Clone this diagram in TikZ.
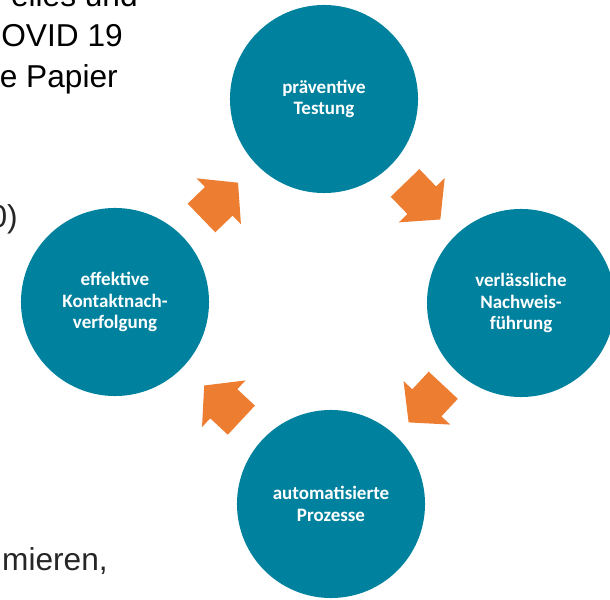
\documentclass[tikz,border=0pt]{standalone}
\usepackage{fontspec}
\setmainfont{Liberation Sans}
\newfontfamily\kreisfont{Carlito}
\usepackage{xcolor}
\usetikzlibrary{shapes.arrows,calc}

\definecolor{kreisblau}{RGB}{0,130,158}
\definecolor{pfeilorange}{RGB}{237,125,49}
\definecolor{textgrau}{RGB}{38,38,38}

\begin{document}
\begin{tikzpicture}[
    x=0.025cm, y=0.025cm,
    kreis/.style={
      circle,
      fill=kreisblau,
      minimum size=4.7cm,
      inner sep=0pt,
      align=center,
      text=white,
      font=\kreisfont\bfseries\fontsize{13.5}{15.4}\selectfont
    },
    pfeil/.style={
      single arrow,
      fill=pfeilorange,
      anchor=tail,
      minimum height=1.27cm,
      inner xsep=0pt,
      inner ysep=0.49cm,
      single arrow head extend=0.3cm,
      single arrow tip angle=100
    },
    hgtext/.style={
      anchor=base east,
      inner sep=0pt,
      font=\fontsize{22.5}{28}\selectfont
    }
  ]
    \useasboundingbox (0,0) rectangle (610,599);
    \clip (0,0) rectangle (610,599);
    % Text im Hintergrund
    \node[hgtext] (t1) at (138,592) {elles und};
    \node[hgtext] (t2) at (123,552) {OVID 19};
    \node[hgtext] (t3) at (118,511) {e Papier};
    \node[hgtext, text=textgrau] (t4) at (18,371) {0)};
    \node[hgtext, text=textgrau] (t5) at (108,29) {mieren,};
    % Kreise
    \node[kreis] (test) at (324,500) {präventive\\Testung};
    \node[kreis] (nachweis) at (521,296) {verlässliche\\Nachweis-\\führung};
    \node[kreis] (prozess) at (331,95) {automatisierte\\Prozesse};
    \node[kreis] (kontakt) at (115,297) {effektive\\Kontaktnach-\\verfolgung};
    % Pfeile (Schaftende etwas vor der Mitte)
    \node[pfeil, rotate=44] (p1) at ($(kontakt)!0.5!(test)!0.635cm!(kontakt)$) {};
    \node[pfeil, rotate=-46] (p2) at ($(test)!0.5!(nachweis)!0.635cm!(test)$) {};
    \node[pfeil, rotate=-133] (p3) at ($(nachweis)!0.5!(prozess)!0.635cm!(nachweis)$) {};
    \node[pfeil, rotate=137] (p4) at ($(prozess)!0.5!(kontakt)!0.635cm!(prozess)$) {};
  \end{tikzpicture}
\end{document}
